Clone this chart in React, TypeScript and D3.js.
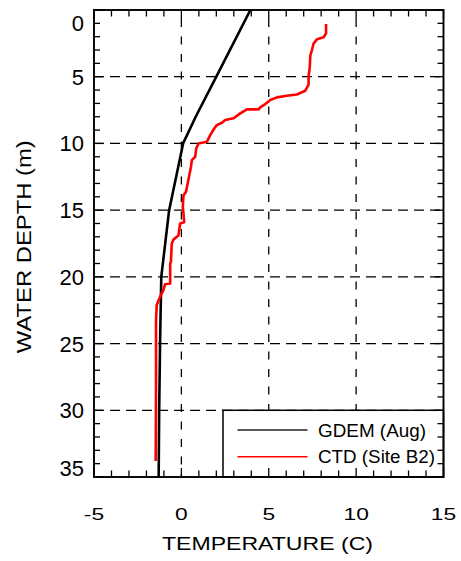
import React from "react";
import * as d3 from "d3";

const GDEM_DEPTH = [0, 5, 8, 10, 15, 20, 25, 30, 35];
const GDEM_TEMP = [3.95, 2.0, 0.82, 0.1, -0.7, -1.15, -1.22, -1.27, -1.3];

const CTD_DEPTH = [
  1.05, 1.75, 2.05, 2.2, 2.5, 3.0, 3.4, 4.25, 5.0, 5.6, 6.05, 6.33, 6.43, 6.55, 6.75, 7.05, 7.3, 7.45,
  7.45, 7.75, 8.12, 8.25, 8.45, 8.63, 8.88, 9.38, 9.88, 10.0, 10.38, 11.0, 11.25, 11.75, 12.75, 13.6,
  13.9, 14.75, 15.25, 15.9, 16.0, 16.9, 17.2, 17.5, 18.9, 19.0, 20.5, 20.55, 21.0, 21.5, 22.1, 23.25,
  27.75, 33.8,
];
const CTD_TEMP = [
  8.28, 8.28, 8.14, 7.76, 7.57, 7.47, 7.38, 7.35, 7.28, 7.28, 7.09, 6.61, 6.04, 5.47, 5.09, 4.8, 4.51, 4.42,
  3.75, 3.37, 2.98, 2.51, 2.32, 2.03, 1.88, 1.65, 1.46, 0.98, 0.85, 0.79, 0.6, 0.55, 0.4, 0.27,
  0.12, 0.08, 0.12, 0.16, -0.07, -0.17, -0.45, -0.55, -0.6, -0.64, -0.64, -0.93, -1.03, -1.22, -1.41, -1.45,
  -1.45, -1.47,
];

const X_TICKS = [-5, 0, 5, 10, 15];
const Y_TICKS = [0, 5, 10, 15, 20, 25, 30, 35];
const X_GRID = [0, 5, 10];
const Y_GRID = [5, 10, 15, 20, 25, 30];
const LEGEND = [
  { label: "GDEM (Aug)", color: "#222" },
  { label: "CTD (Site B2)", color: "#ff0000" },
];

const FONT = "'Liberation Sans', Arial, Helvetica, sans-serif";

export default function App() {
  const L = 94, R = 443.5, T = 10, B = 477;
  const x = d3.scaleLinear().domain([-5, 15]).range([L, R]);
  const y = d3.scaleLinear().domain([0, 35]).range([T, B]);

  const gdem = GDEM_DEPTH.map((d, i) => [GDEM_TEMP[i], d] as [number, number]);
  const ctd = CTD_DEPTH.map((d, i) => [CTD_TEMP[i], d] as [number, number]);
  const line = d3
    .line<[number, number]>()
    .x((p) => x(p[0]))
    .y((p) => y(p[1]));

  const xMinor = d3.range(-5, 15.001, 1);
  const yMinor = d3.range(0, 35.001, 1);

  const legX = 223, legY = y(30);

  return (
    <svg
      width={461}
      height={561}
      style={{ position: "absolute", left: 0, top: 0, background: "#fff" }}
      fontFamily={FONT}
    >
      <rect x={0} y={0} width={461} height={561} fill="#fff" />
      <defs>
        <clipPath id="plot">
          <rect x={L} y={T} width={R - L} height={B - T} />
        </clipPath>
      </defs>
      {/* grid */}
      {X_GRID.map((v) => (
        <line key={"gx" + v} x1={x(v)} x2={x(v)} y1={T} y2={B} stroke="#000" strokeWidth={1.3} strokeDasharray="8,9.5" strokeDashoffset={-9} />
      ))}
      {Y_GRID.map((v) => (
        <line key={"gy" + v} x1={L} x2={R} y1={y(v)} y2={y(v)} stroke="#000" strokeWidth={1.2} strokeDasharray="10,6" />
      ))}
      {/* data */}
      <g clipPath="url(#plot)">
        <path d={line(gdem) || ""} fill="none" stroke="#000" strokeWidth={2.6} strokeLinejoin="round" />
        <path d={line(ctd) || ""} fill="none" stroke="#ff0000" strokeWidth={2.6} strokeLinejoin="round" />
      </g>
      {/* legend */}
      <rect x={legX} y={legY} width={R - legX} height={B - legY} fill="#fff" stroke="#000" strokeWidth={1.5} />
      {LEGEND.map((l, i) => (
        <g key={l.label}>
          <line x1={237.5} x2={307.5} y1={430 + i * 26.7} y2={430 + i * 26.7} stroke={l.color} strokeWidth={1.6} />
          <text x={318} y={436.7 + i * 26.7} fontSize={17.7} textLength={i === 0 ? 108 : 117} lengthAdjust="spacingAndGlyphs" fill="#000">
            {l.label}
          </text>
        </g>
      ))}
      {/* ticks */}
      {xMinor.map((v) => {
        const len = v % 5 === 0 ? 9 : 6.5;
        return (
          <g key={"tx" + v}>
            <line x1={x(v)} x2={x(v)} y1={T} y2={T + len} stroke="#000" strokeWidth={1.3} />
            <line x1={x(v)} x2={x(v)} y1={B} y2={B - len} stroke="#000" strokeWidth={1.3} />
          </g>
        );
      })}
      {yMinor.map((v) => {
        const len = v % 5 === 0 ? 9 : 6;
        return (
          <g key={"ty" + v}>
            <line x1={L} x2={L + len} y1={y(v)} y2={y(v)} stroke="#000" strokeWidth={1.3} />
            <line x1={R} x2={R - len} y1={y(v)} y2={y(v)} stroke="#000" strokeWidth={1.3} />
          </g>
        );
      })}
      {/* frame */}
      <rect x={L} y={T} width={R - L} height={B - T} fill="none" stroke="#000" strokeWidth={1.9} />
      {/* x tick labels */}
      {X_TICKS.map((v) => (
        <text key={"xl" + v} transform={`translate(${x(v)},520) scale(1.38,1)`} textAnchor="middle" fontSize={16.5} fill="#000">
          {v}
        </text>
      ))}
      {/* y tick labels */}
      {Y_TICKS.map((v) => {
        const c = Math.min(Math.max(y(v), 23), 468);
        return (
          <text key={"yl" + v} x={84} y={c + 8} textAnchor="end" fontSize={22} fill="#000">
            {v}
          </text>
        );
      })}
      {/* axis titles */}
      <text x={267.5} y={550} textAnchor="middle" fontSize={18.6} textLength={211} lengthAdjust="spacingAndGlyphs" fill="#000">
        TEMPERATURE (C)
      </text>
      <text transform="translate(30.7,246.7) rotate(-90)" textAnchor="middle" fontSize={20.5} textLength={213} lengthAdjust="spacingAndGlyphs" fill="#000">
        WATER DEPTH (m)
      </text>
    </svg>
  );
}
